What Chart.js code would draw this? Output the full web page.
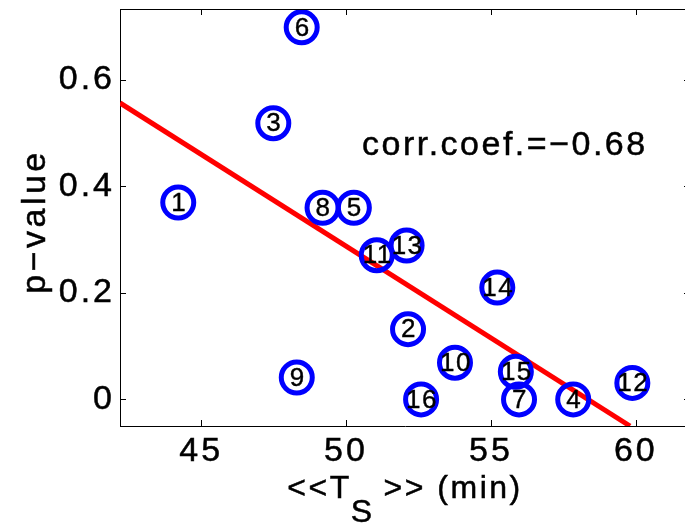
<!DOCTYPE html>
<html lang="en">
  <head>
    <meta charset="UTF-8" />
    <meta name="viewport" content="width=device-width, initial-scale=1.0" />
    <title>p-value vs Ts</title>
    <script src="https://cdn.jsdelivr.net/npm/chart.js@4.4.1/dist/chart.umd.min.js"></script>
    <style>
      html,
      body {
        margin: 0;
        padding: 0;
        background: #ffffff;
        overflow: hidden;
      }
      #myChart {
        display: block;
      }
    </style>
  </head>
  <body>
    <canvas id="myChart" width="690" height="527"></canvas>
    <script>
      // numbers written inside the circles
      var pointLabels = ["1", "2", "3", "4", "5", "6", "7", "8", "9", "10", "11", "12", "13", "14", "15", "16"];
      // <<Ts>> in minutes
      var tsValues = [44.21, 52.14, 47.49, 57.84, 50.27, 48.47, 55.97, 49.19, 48.3, 53.76, 51.06, 59.88, 52.09, 55.22, 55.86, 52.59];
      // p-values
      var pValues = [0.37, 0.132, 0.519, 0.0, 0.36, 0.699, 0.0, 0.36, 0.041, 0.069, 0.271, 0.031, 0.289, 0.21, 0.052, 0.0];
      // red regression line (end points)
      var fitX = [42.2, 59.8];
      var fitY = [0.557, -0.05];
      var xTicks = [45, 50, 55, 60];
      var yTicks = [0, 0.2, 0.4, 0.6];
      var yTickLabels = ["0", "0.2", "0.4", "0.6"];
      var corrText = "corr.coef.=\u22120.68";
      var yTitle = "p\u2212value";

      var fontFamily = "'Liberation Sans', Arial, Helvetica, sans-serif";
      Chart.defaults.font.family = fontFamily;
      Chart.defaults.color = "#000000";

      // no extra padding for tick labels, the plot box is placed by hand
      function noPadding(scale) {
        scale.paddingTop = 0;
        scale.paddingBottom = 0;
        scale.paddingLeft = 0;
        scale.paddingRight = 0;
      }

      // text a bit heavier, like the matlab export
      function heavyText(ctx, text, x, y) {
        ctx.strokeText(text, x, y);
        ctx.fillText(text, x, y);
      }

      // matlab style box: top line, inward ticks, labels, numbers, annotation
      var matlabAxes = {
        id: "matlabAxes",
        beforeDraw: function (chart) {
          chart.ctx.letterSpacing = "3px";
        },
        afterDatasetsDraw: function (chart) {
          var ctx = chart.ctx;
          var meta = chart.getDatasetMeta(0);
          ctx.save();
          ctx.letterSpacing = "1.5px";
          ctx.font = "26px " + fontFamily;
          ctx.fillStyle = "#000000";
          ctx.strokeStyle = "#000000";
          ctx.lineWidth = 0.4;
          ctx.textAlign = "center";
          ctx.textBaseline = "middle";
          meta.data.forEach(function (pt, i) {
            heavyText(ctx, pointLabels[i], pt.x + 1, pt.y + 1);
          });
          ctx.restore();
        },
        afterDraw: function (chart) {
          var ctx = chart.ctx;
          var area = chart.chartArea;
          var xs = chart.scales.x;
          var ys = chart.scales.y;
          ctx.save();
          ctx.strokeStyle = "#000000";
          ctx.lineWidth = 1;
          ctx.beginPath();
          ctx.moveTo(area.left, area.top + 0.5);
          ctx.lineTo(area.right, area.top + 0.5);
          xs.ticks.forEach(function (t) {
            var px = Math.round(xs.getPixelForValue(t.value)) + 0.5;
            ctx.moveTo(px, area.bottom);
            ctx.lineTo(px, area.bottom - 6);
            ctx.moveTo(px, area.top);
            ctx.lineTo(px, area.top + 6);
          });
          ys.ticks.forEach(function (t) {
            var py = Math.round(ys.getPixelForValue(t.value)) + 0.5;
            ctx.moveTo(area.left, py);
            ctx.lineTo(area.left + 6, py);
            ctx.moveTo(area.right, py);
            ctx.lineTo(area.right - 6, py);
          });
          ctx.stroke();

          ctx.fillStyle = "#000000";
          ctx.lineWidth = 0.5;

          // y label
          ctx.save();
          ctx.letterSpacing = "3.5px";
          ctx.font = "34px " + fontFamily;
          ctx.textAlign = "center";
          ctx.textBaseline = "alphabetic";
          ctx.translate(45, (area.top + area.bottom) / 2 + 4);
          ctx.rotate(-Math.PI / 2);
          heavyText(ctx, yTitle, 0, 0);
          ctx.restore();

          // x label: <<T_S>> (min)
          ctx.letterSpacing = "2.5px";
          ctx.font = "32px " + fontFamily;
          ctx.textAlign = "left";
          ctx.textBaseline = "alphabetic";
          var a = "<<T", s = "S", b = ">> (min)";
          var wa = ctx.measureText(a).width;
          var ws = ctx.measureText(s).width;
          var wb = ctx.measureText(b).width;
          var x0 = (area.left + area.right) / 2 - (wa + ws + wb + 8) / 2;
          heavyText(ctx, a, x0, 498);
          heavyText(ctx, s, x0 + wa - 1, 522);
          heavyText(ctx, b, x0 + wa + ws + 8, 498);

          // correlation coefficient
          ctx.font = "34px " + fontFamily;
          heavyText(ctx, corrText, xs.getPixelForValue(50.55), ys.getPixelForValue(0.459));
          ctx.restore();
        },
      };

      var ctx = document.getElementById("myChart").getContext("2d");
      new Chart(ctx, {
        type: "scatter",
        data: {
          datasets: [
            {
              type: "scatter",
              data: tsValues.map(function (x, i) {
                return { x: x, y: pValues[i] };
              }),
              pointStyle: "circle",
              pointRadius: 15.5,
              pointHoverRadius: 15.5,
              pointBorderWidth: 5,
              pointBorderColor: "#0000ff",
              pointBackgroundColor: "rgba(0,0,0,0)",
              clip: false,
              order: 1,
            },
            {
              type: "line",
              data: fitX.map(function (x, i) {
                return { x: x, y: fitY[i] };
              }),
              borderColor: "#ff0000",
              borderWidth: 5,
              pointRadius: 0,
              fill: false,
              clip: 0,
              order: 2,
            },
          ],
        },
        options: {
          responsive: false,
          devicePixelRatio: 1,
          animation: false,
          layout: { autoPadding: false, padding: { top: 9, left: 0, right: 0, bottom: 0 } },
          plugins: {
            legend: { display: false },
            tooltip: { enabled: false },
          },
          scales: {
            x: {
              type: "linear",
              min: 42.2,
              max: 61.87,
              grid: { display: false, drawTicks: false },
              border: { display: true, color: "#000000", width: 1 },
              ticks: {
                font: { size: 34 },
                color: "#000000",
                textStrokeColor: "#000000",
                textStrokeWidth: 0.5,
                padding: 5,
                maxRotation: 0,
              },
              afterBuildTicks: function (scale) {
                scale.ticks = xTicks.map(function (v) {
                  return { value: v };
                });
              },
              afterFit: function (scale) {
                scale.height = 101;
                noPadding(scale);
              },
            },
            y: {
              type: "linear",
              min: -0.05,
              max: 0.7335,
              grid: { display: false, drawTicks: false },
              border: { display: true, color: "#000000", width: 1 },
              ticks: {
                font: { size: 34 },
                color: "#000000",
                textStrokeColor: "#000000",
                textStrokeWidth: 0.5,
                padding: 5,
                callback: function (value) {
                  var i = yTicks.indexOf(value);
                  return i >= 0 ? yTickLabels[i] : "";
                },
              },
              afterBuildTicks: function (scale) {
                scale.ticks = yTicks.map(function (v) {
                  return { value: v };
                });
              },
              afterFit: function (scale) {
                scale.width = 120;
                noPadding(scale);
              },
            },
          },
        },
        plugins: [matlabAxes],
      });
    </script>
  </body>
</html>
